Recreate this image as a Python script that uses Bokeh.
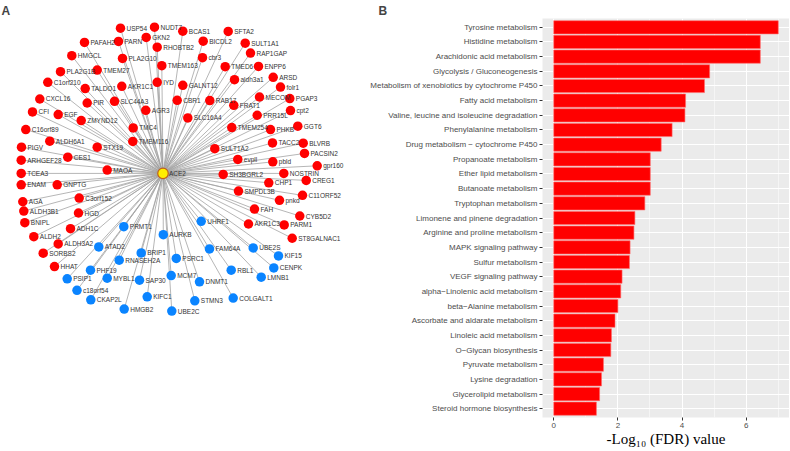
from bokeh.plotting import figure
from bokeh.models import Range1d, FactorRange, FixedTicker, ColumnDataSource
from bokeh.layouts import row
from bokeh.embed import file_html
from bokeh.resources import INLINE
from bokeh.core.properties import value

# ---------------- Panel A: network data ----------------
hub_name = "ACE2"
hub_x = 162.5
hub_y = 172.3

red_names = ["USP54", "NUDT7", "PAFAH2", "PARN", "GKN2", "RHOBTB2", "BCAS1", "SFTA2", "BICDL2", "SULT1A1",
             "HMGCL", "PLA2G10", "TMEM163", "cbr3", "RAP1GAP", "PLA2G1B", "TMEM27", "TMED6", "ENPP6", "C1orf210",
             "TALDO1", "AKR1C1", "IYD", "GALNT12", "aldh3a1", "ARSD", "folr1", "CXCL16", "PIR", "SLC44A3",
             "CBR1", "RAB17", "MECOM", "PGAP3", "FRAT1", "cpt2", "CFI", "EGF", "ZMYND12", "AGR3",
             "SLC16A4", "PRR15L", "TMC4", "TMEM254", "PHKB", "GGT6", "C16orf89", "ALDH6A1", "TMEM116", "TACC2",
             "BLVRB", "PIGV", "STX19", "SULT1A2", "PACSIN2", "ARHGEF28", "CES1", "evpll", "pbld", "gpr160",
             "MAOA", "TCEA3", "SH3BGRL2", "NOSTRIN", "CREG1", "CHP1", "ENAM", "GNPTG", "SMPDL3B", "C11ORF52",
             "AGA", "C3orf152", "pnkd", "ALDH3B1", "HGD", "FAH", "CYB5D2", "BNIPL", "AKR1C3", "PARM1",
             "ADH1C", "ST8GALNAC1", "ALDH2", "ALDH3A2", "SORBS2", "HHAT"]
red_x = [120, 154, 84, 118, 145.7, 156.7, 182.3, 227.7, 202.7, 244.7,
         71.3, 122, 161.3, 202, 250, 60, 96.7, 224.7, 258, 47.3,
         84.7, 121.3, 156.7, 182.3, 234, 272.7, 280, 39.3, 86.7, 114,
         176.7, 209.3, 259, 289.3, 233.3, 290, 32, 57.7, 80.7, 145.3,
         187.3, 256.7, 132.7, 231.3, 270, 297.3, 25.3, 49.3, 132.3, 272,
         302.7, 21, 96.7, 214.3, 304, 20.7, 67.3, 237.3, 272.3, 316.7,
         106.7, 20.7, 222.7, 283.3, 305.7, 268.3, 20.7, 56.7, 238, 302,
         22.3, 78.7, 279, 23.3, 78, 254, 299.3, 24.3, 248, 283.7,
         70, 291.7, 33.3, 57.7, 42.7, 54]
red_y = [26.7, 25.7, 41, 40, 36, 45.7, 29.7, 30, 39.7, 41.7,
         54.3, 57, 64.3, 56.3, 51.7, 70.3, 68.7, 65.3, 65, 81,
         87.3, 85, 81, 84, 78.3, 76, 85.7, 97.7, 101.7, 100,
         99, 99.3, 95.7, 97.3, 104, 109.3, 110.7, 113.3, 119.3, 109,
         116.7, 114, 126.7, 126.3, 128.3, 125, 128.3, 140, 140.3, 141.7,
         142, 146, 146, 147.5, 152.3, 159, 156, 158.3, 160.7, 164.7,
         169, 172.3, 173.3, 172.3, 179.3, 181.7, 183.7, 183.7, 190, 194.3,
         200.7, 197, 199.3, 210, 212, 208, 215, 221.7, 223, 224,
         227.7, 237.3, 235.7, 243, 252.3, 265.7]

blue_names = ["PRMT1", "UHRF1", "AURKB", "ATAD2", "BRIP1", "FAM64A", "UBE2S", "KIF15", "RNASEH2A", "PSRC1",
              "CENPK", "PHF19", "RBL1", "MYBL1", "SAP30", "MCM7", "PSIP1", "LMNB1", "DNMT1", "c18orf54",
              "CKAP2L", "KIFC1", "COLGALT1", "STMN3", "HMGB2", "UBE2C"]
blue_x = [123.3, 200.7, 162.8, 98.3, 140.7, 209, 252.7, 278, 118.7, 175.8,
          273.3, 90, 230.7, 106.7, 139, 170.7, 66.7, 260.7, 199, 76.5,
          90.3, 146.7, 232.7, 194.3, 123.7, 171.3]
blue_y = [225.7, 220.3, 233.7, 246, 252, 248, 247, 255, 259.3, 257.5,
          267, 269.3, 269.3, 277.3, 279.3, 274.7, 278, 276.3, 281, 289.5,
          299, 296, 297.3, 300, 308.3, 310.3]

# ---------------- Panel B: enrichment data ----------------
pathways = ["Tyrosine metabolism", "Histidine metabolism", "Arachidonic acid metabolism",
            "Glycolysis / Gluconeogenesis", "Metabolism of xenobiotics by cytochrome P450",
            "Fatty acid metabolism", "Valine, leucine and isoleucine degradation",
            "Phenylalanine metabolism", "Drug metabolism \u2212 cytochrome P450",
            "Propanoate metabolism", "Ether lipid metabolism", "Butanoate metabolism",
            "Tryptophan metabolism", "Limonene and pinene degradation",
            "Arginine and proline metabolism", "MAPK signaling pathway", "Sulfur metabolism",
            "VEGF signaling pathway", "alpha\u2212Linolenic acid metabolism", "beta\u2212Alanine metabolism",
            "Ascorbate and aldarate metabolism", "Linoleic acid metabolism", "O\u2212Glycan biosynthesis",
            "Pyruvate metabolism", "Lysine degradation", "Glycerolipid metabolism",
            "Steroid hormone biosynthesis"]
neglog_fdr = [7.0, 6.44, 6.44, 4.86, 4.70, 4.11, 4.09, 3.69, 3.35, 3.01, 3.01, 3.01, 2.84, 2.53, 2.50,
              2.38, 2.36, 2.13, 2.09, 2.00, 1.91, 1.80, 1.78, 1.55, 1.49, 1.43, 1.33]
x_ticks = [0, 2, 4, 6]
x_minor = [1, 3, 5, 7]

H = 450
TOP = 17
BOTTOM = 33
LEFT_W = 360

# ---------------- build panel A ----------------
pa = figure(width=LEFT_W, height=H, x_range=Range1d(0, LEFT_W), y_range=Range1d(H - BOTTOM, TOP),
            output_backend="svg", toolbar_location=None,
            min_border_left=0, min_border_right=0, min_border_top=TOP, min_border_bottom=BOTTOM,
            x_axis_location=None, y_axis_location=None, title="A")
pa.grid.visible = False
pa.outline_line_color = None
pa.title.align = "left"
pa.title.offset = 1
pa.title.standoff = 2
pa.title.text_font = "Liberation Sans"
pa.title.text_font_size = "12px"
pa.title.text_font_style = "bold"

all_x = red_x + blue_x
all_y = red_y + blue_y
edges = ColumnDataSource(dict(x0=[hub_x] * len(all_x), y0=[hub_y] * len(all_y), x1=all_x, y1=all_y))
pa.segment(x0="x0", y0="y0", x1="x1", y1="y1", source=edges, line_color="#a3a3a3", line_width=0.8)

red_src = ColumnDataSource(dict(x=red_x, y=red_y, name=red_names))
blue_src = ColumnDataSource(dict(x=blue_x, y=blue_y, name=blue_names))
hub_src = ColumnDataSource(dict(x=[hub_x], y=[hub_y], name=[hub_name]))

pa.scatter(x="x", y="y", source=red_src, size=9.5, fill_color="#ff0000", line_color=None)
pa.scatter(x="x", y="y", source=blue_src, size=9.5, fill_color="#0a84ff", line_color=None)
pa.scatter(x="x", y="y", source=hub_src, size=10.5, fill_color="#ffee00", line_color="#c0601a", line_width=1.2)

for src in (red_src, blue_src, hub_src):
    pa.text(x="x", y="y", text="name", source=src, x_offset=6, text_baseline="middle",
            text_font=value("Liberation Sans"), text_font_size="6.5px", text_color="#333333")

# ---------------- build panel B ----------------
pb = figure(width=789 - LEFT_W, height=H,
            y_range=FactorRange(factors=pathways[::-1], range_padding=0.1, range_padding_units="absolute"),
            x_range=Range1d(-0.35, 7.35),
            output_backend="svg", toolbar_location=None, title="B",
            min_border_left=542 - LEFT_W, min_border_right=0, min_border_top=TOP, min_border_bottom=BOTTOM)
pb.background_fill_color = "#ebebeb"
pb.outline_line_color = None
pb.title.align = "left"
pb.title.offset = 378 - 542
pb.title.standoff = 2
pb.title.text_font = "Liberation Sans"
pb.title.text_font_size = "12px"
pb.title.text_font_style = "bold"

ticker = FixedTicker(ticks=x_ticks, minor_ticks=x_minor)
pb.xaxis.ticker = ticker
pb.xgrid.ticker = ticker
pb.xgrid.grid_line_color = "white"
pb.xgrid.grid_line_width = 1.1
pb.xgrid.minor_grid_line_color = "white"
pb.xgrid.minor_grid_line_width = 0.5
pb.ygrid.grid_line_color = "white"
pb.ygrid.grid_line_width = 1.1

bars = ColumnDataSource(dict(path=pathways, val=neglog_fdr))
pb.hbar(y="path", left=0, right="val", height=0.9, source=bars,
        fill_color="#ff0000", line_color="#ff6a6a", line_width=0.6)

pb.axis.axis_line_color = None
pb.axis.major_tick_line_color = "#333333"
pb.axis.major_tick_out = 3
pb.axis.major_tick_in = 0
pb.axis.minor_tick_line_color = None
pb.axis.major_label_text_color = "#4d4d4d"
pb.axis.major_label_text_font = "Liberation Sans"
pb.axis.major_label_text_font_size = "8px"
pb.axis.major_label_standoff = 2
pb.xaxis.major_label_standoff = 1
pb.xaxis.axis_label = "-Log\u2081\u2080 (FDR) value"
pb.xaxis.axis_label_text_font = "Liberation Serif"
pb.xaxis.axis_label_text_font_size = "15px"
pb.xaxis.axis_label_text_font_style = "normal"
pb.xaxis.axis_label_text_color = "#000000"
pb.xaxis.axis_label_standoff = 0

layout = row(pa, pb)
open("out.html", "w").write(file_html(layout, INLINE))
